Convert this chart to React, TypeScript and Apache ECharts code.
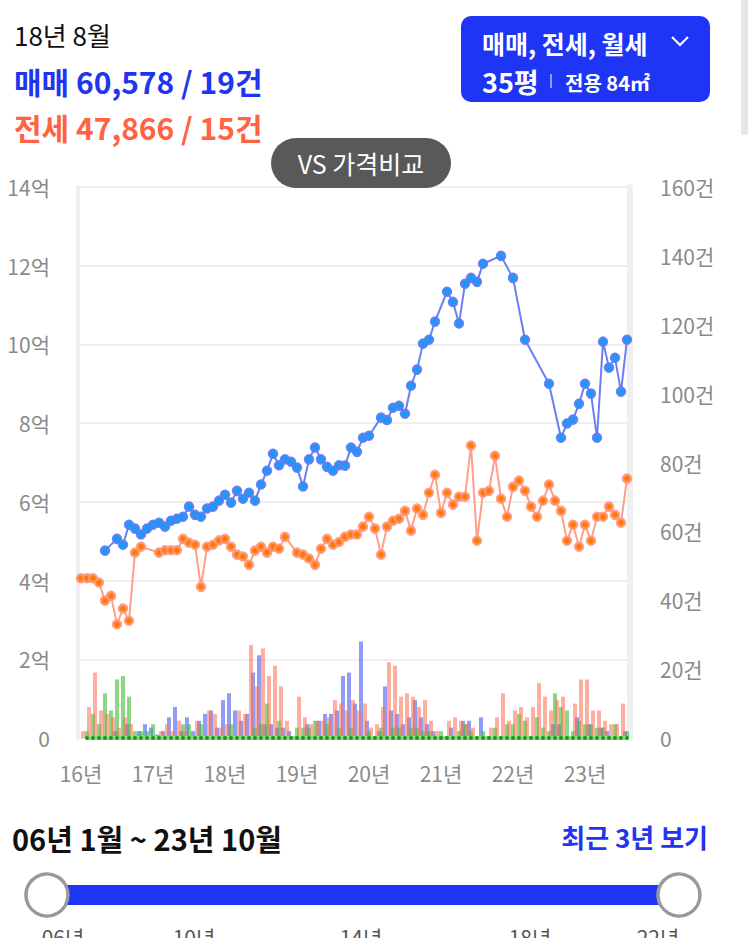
import React, { useEffect, useRef } from "react";
import * as echarts from "echarts";

const FONT = "'Noto Sans CJK KR', 'Noto Sans', sans-serif";

// months 16.01 .. 23.08
const months: string[] = [
  "16.01","16.02","16.03","16.04","16.05","16.06","16.07","16.08","16.09","16.10","16.11","16.12",
  "17.01","17.02","17.03","17.04","17.05","17.06","17.07","17.08","17.09","17.10","17.11","17.12",
  "18.01","18.02","18.03","18.04","18.05","18.06","18.07","18.08","18.09","18.10","18.11","18.12",
  "19.01","19.02","19.03","19.04","19.05","19.06","19.07","19.08","19.09","19.10","19.11","19.12",
  "20.01","20.02","20.03","20.04","20.05","20.06","20.07","20.08","20.09","20.10","20.11","20.12",
  "21.01","21.02","21.03","21.04","21.05","21.06","21.07","21.08","21.09","21.10","21.11","21.12",
  "22.01","22.02","22.03","22.04","22.05","22.06","22.07","22.08","22.09","22.10","22.11","22.12",
  "23.01","23.02","23.03","23.04","23.05","23.06","23.07","23.08",
];

// 매매 price (억)
const salePrice: (number | null)[] = [
  null, null, null, null, 4.76, null, 5.06, 4.91, 5.42, 5.32, 5.17, 5.32,
  5.42, 5.47, 5.37, 5.52, 5.57, 5.62, 5.88, 5.67, 5.62, 5.83, 5.88, 6.03,
  6.18, 5.98, 6.28, 6.08, 6.23, 6.03, 6.44, 6.79, 7.22, 6.93, 7.08, 7.02,
  6.87, 6.39, 7.08, 7.38, 7.08, 6.89, 6.79, 6.93, 6.92, 7.38, 7.27, 7.63,
  7.68, null, 8.14, 8.08, 8.39, 8.44, 8.24, 8.95, 9.36, 10.02, 10.12, 10.58,
  null, 11.34, 11.08, 10.53, 11.54, 11.69, 11.59, 12.05, null, null, 12.25, null,
  11.69, null, 10.12, null, null, null, 9.0, null, 7.63, 7.99, 8.09, 8.49,
  9.0, 8.75, 7.63, 10.07, 9.41, 9.66, 8.8, 10.12,
];

// 전세 price (억)
const jeonsePrice: (number | null)[] = [
  4.06, 4.06, 4.06, 3.95, 3.49, 3.61, 2.89, 3.29, 2.98, 4.71, 4.86, null,
  null, 4.71, 4.77, 4.77, 4.77, 5.06, 4.96, 4.91, 3.84, 4.86, 4.91, 5.02,
  5.06, 4.86, 4.66, 4.61, 4.4, 4.76, 4.86, 4.71, 4.86, 4.81, 5.11, null,
  4.71, 4.66, 4.56, 4.4, 4.81, 5.06, 4.91, 4.98, 5.11, 5.17, 5.17, 5.37,
  5.62, 5.32, 4.66, 5.37, 5.52, 5.57, 5.77, 5.27, 5.83, 5.67, 6.23, 6.69,
  5.72, 6.23, 5.93, 6.13, 6.13, 7.43, 5.01, 6.23, 6.28, 7.17, 6.08, 5.62,
  6.38, 6.54, 6.28, 5.88, 5.62, 6.03, 6.44, 6.03, 5.77, 5.01, 5.42, 4.86,
  5.42, 5.01, 5.62, 5.62, 5.88, 5.67, 5.47, 6.59,
];

// 월세 price line (shown at the bottom)
const monthlyPrice: (number | null)[] = [
  null, 0, 0, 0, 0, 0, 0, 0, 0, 0, 0, 0,
  0, 0, 0, 0, 0, 0, 0, 0, 0, 0, 0, 0,
  0, 0, 0, 0, 0, 0, 0, 0, 0, 0, 0, 0,
  0, 0, 0, 0, 0, 0, 0, 0, 0, 0, 0, 0,
  0, 0, 0, 0, 0, 0, 0, 0, 0, 0, 0, 0,
  0, 0, 0, 0, 0, 0, 0, 0, 0, 0, 0, 0,
  0, 0, 0, 0, 0, 0, 0, 0, 0, 0, 0, 0,
  0, 0, 0, 0, 0, 0, 0, 0,
];

// 매매 count (건)
const saleCount: number[] = [
  0, 0, 0, 0, 0, 0, 2, 0, 4, 0, 2, 4,
  3, 1, 2, 6, 9, 2, 6, 2, 5, 7, 8, 3,
  11, 13, 8, 5, 7, 19, 24, 4, 4, 3, 3, 2,
  0, 0, 4, 0, 5, 7, 7, 8, 18, 19, 10, 28,
  5, 0, 2, 15, 8, 7, 4, 6, 11, 6, 4, 2,
  0, 0, 3, 0, 5, 5, 0, 6, 0, 0, 0, 0,
  0, 0, 0, 0, 0, 0, 0, 4, 4, 0, 0, 6,
  0, 4, 0, 3, 2, 0, 0, 2,
];

// 전세 count (건)
const jeonseCount: number[] = [
  2, 9, 19, 8, 7, 6, 3, 6, 4, 0, 0, 0,
  0, 2, 4, 2, 5, 2, 0, 5, 0, 8, 7, 3,
  4, 0, 8, 7, 27, 15, 26, 18, 21, 15, 5, 0,
  12, 6, 4, 5, 5, 6, 11, 10, 8, 11, 8, 10,
  3, 4, 9, 22, 21, 12, 13, 12, 9, 11, 5, 2,
  0, 5, 6, 5, 4, 3, 0, 0, 3, 6, 13, 5,
  8, 9, 6, 9, 16, 12, 8, 11, 12, 0, 10, 17,
  17, 8, 8, 5, 4, 4, 10, 0,
];

// 월세 count (건)
const monthlyCount: number[] = [
  0, 2, 7, 4, 13, 8, 17, 18, 12, 2, 2, 2,
  4, 0, 0, 0, 0, 4, 4, 0, 4, 0, 0, 0,
  0, 4, 0, 0, 0, 3, 4, 10, 0, 5, 0, 0,
  3, 3, 3, 5, 0, 4, 0, 3, 0, 3, 0, 0,
  2, 0, 3, 0, 3, 3, 0, 3, 3, 2, 2, 0,
  2, 0, 0, 2, 4, 2, 0, 2, 0, 3, 0, 4,
  4, 7, 5, 0, 6, 3, 2, 13, 9, 8, 2, 5,
  4, 4, 3, 3, 0, 4, 0, 2,
];

const priceTicks = { min: 0, max: 14, interval: 2 };
const countTicks = { min: 0, max: 160, interval: 20 };
const sliderLabels = ["06년", "10년", "14년", "18년", "22년"];

export default function App() {
  const ref = useRef<HTMLDivElement>(null);
  useEffect(() => {
    if (!ref.current) return;
    const chart = echarts.init(ref.current, null, { renderer: "svg" });
    const axisLabelStyle = { color: "#8a8a8a", fontSize: 21, fontFamily: FONT };
    const sliderX = [63, 194, 361, 530, 658];
    chart.setOption({
      animation: false,
      backgroundColor: "#ffffff",
      grid: { left: 78, right: 118, top: 187, bottom: 200, containLabel: false },
      xAxis: {
        type: "category",
        data: months,
        boundaryGap: true,
        axisLine: { show: false },
        axisTick: { show: false },
        splitLine: { show: false },
        axisLabel: {
          ...axisLabelStyle,
          margin: 24,
          interval: (idx: number) => idx % 12 === 0,
          formatter: (v: string) => v.slice(0, 2) + "년",
        },
      },
      yAxis: [
        {
          type: "value",
          ...priceTicks,
          position: "left",
          axisLine: { show: true, lineStyle: { color: "#efefef", width: 4 } },
          axisTick: { show: false },
          splitLine: { show: true, lineStyle: { color: "#efefef", width: 2 } },
          axisLabel: {
            ...axisLabelStyle,
            margin: 28,
            formatter: (v: number) => (v === 0 ? "0" : v + "억"),
          },
        },
        {
          type: "value",
          ...countTicks,
          position: "right",
          axisLine: { show: true, lineStyle: { color: "#efefef", width: 6 } },
          axisTick: { show: false },
          splitLine: { show: false },
          axisLabel: {
            ...axisLabelStyle,
            margin: 30,
            formatter: (v: number) => (v === 0 ? "0" : v + "건"),
          },
        },
      ],
      series: [
        {
          name: "매매 건수",
          type: "bar",
          yAxisIndex: 1,
          data: saleCount,
          barWidth: 4,
          barGap: "-50%",
          itemStyle: { color: "rgba(70,90,240,0.6)" },
        },
        {
          name: "월세 건수",
          type: "bar",
          yAxisIndex: 1,
          data: monthlyCount,
          barWidth: 4,
          barGap: "-50%",
          itemStyle: { color: "rgba(60,190,50,0.6)" },
        },
        {
          name: "전세 건수",
          type: "bar",
          yAxisIndex: 1,
          data: jeonseCount,
          barWidth: 4,
          barGap: "-50%",
          itemStyle: { color: "rgba(255,110,80,0.55)" },
        },
        {
          name: "월세",
          type: "line",
          yAxisIndex: 0,
          data: monthlyPrice,
          connectNulls: true,
          showAllSymbol: true,
          symbol: "circle",
          symbolSize: 4,
          lineStyle: { color: "#8fdc85", width: 4 },
          itemStyle: { color: "#1a9a1a", borderWidth: 0 },
          z: 3,
        },
        {
          name: "전세",
          type: "line",
          yAxisIndex: 0,
          data: jeonsePrice,
          connectNulls: true,
          showAllSymbol: true,
          symbol: "circle",
          symbolSize: 8,
          lineStyle: { color: "#ff9f8a", width: 2 },
          itemStyle: { color: "#ff7a00", borderColor: "rgba(255,150,125,0.9)", borderWidth: 2.5 },
          z: 4,
        },
        {
          name: "매매",
          type: "line",
          yAxisIndex: 0,
          data: salePrice,
          connectNulls: true,
          showAllSymbol: true,
          symbol: "circle",
          symbolSize: 8,
          lineStyle: { color: "#6b7ff0", width: 2 },
          itemStyle: { color: "#0ea0f5", borderColor: "rgba(90,125,245,0.95)", borderWidth: 2.5 },
          z: 5,
        },
      ],
      graphic: [
        { type: "line", shape: { x1: 76, y1: 187, x2: 633, y2: 187 }, style: { stroke: "#efefef", lineWidth: 2 }, z: 1 },
        { type: "rect", shape: { x: 741, y: 0, width: 7, height: 135, r: [0, 0, 3, 3] }, style: { fill: "#e6e6e6" } },
        { type: "text", x: 14, y: 34, style: { text: "18년 8월", font: `400 26px ${FONT}`, fill: "#111111", verticalAlign: "middle" } },
        { type: "text", x: 14, y: 81, style: { text: "매매 60,578 / 19건", font: `700 30px ${FONT}`, fill: "#1f35f0", verticalAlign: "middle" } },
        { type: "text", x: 14, y: 127, style: { text: "전세 47,866 / 15건", font: `700 30px ${FONT}`, fill: "#ff6344", verticalAlign: "middle" } },
        { type: "rect", shape: { x: 461, y: 16, width: 249, height: 86, r: 10 }, style: { fill: "#1f35f5" } },
        { type: "text", x: 482, y: 43, style: { text: "매매, 전세, 월세", font: `700 25px ${FONT}`, fill: "#ffffff", verticalAlign: "middle" } },
        { type: "polyline", shape: { points: [[672, 37], [680, 45], [688, 37]] }, style: { stroke: "#ffffff", lineWidth: 2, fill: "none" } },
        { type: "text", x: 482, y: 81, style: { text: "35평", font: `700 27px ${FONT}`, fill: "#ffffff", verticalAlign: "middle" } },
        { type: "line", shape: { x1: 551, y1: 74, x2: 551, y2: 88 }, style: { stroke: "rgba(255,255,255,0.7)", lineWidth: 1.5 } },
        { type: "text", x: 565, y: 82, style: { text: "전용 84㎡", font: `700 20px ${FONT}`, fill: "#ffffff", verticalAlign: "middle" } },
        { type: "rect", shape: { x: 271, y: 138, width: 180, height: 50, r: 25 }, style: { fill: "#595959" }, z: 10 },
        { type: "text", x: 361, y: 163, z: 11, style: { text: "VS 가격비교", font: `400 25px ${FONT}`, fill: "#ffffff", align: "center", verticalAlign: "middle" } },
        { type: "text", x: 12, y: 838, style: { text: "06년 1월 ~ 23년 10월", font: `700 29px ${FONT}`, fill: "#111111", verticalAlign: "middle" } },
        { type: "text", x: 708, y: 836, style: { text: "최근 3년 보기", font: `700 26px ${FONT}`, fill: "#1f35f0", align: "right", verticalAlign: "middle" } },
        { type: "rect", shape: { x: 47, y: 885, width: 632, height: 20 }, style: { fill: "#1f35f5" } },
        { type: "circle", shape: { cx: 47, cy: 895, r: 21 }, style: { fill: "#ffffff", stroke: "#999999", lineWidth: 3.5 } },
        { type: "circle", shape: { cx: 679, cy: 895, r: 21 }, style: { fill: "#ffffff", stroke: "#999999", lineWidth: 3.5 } },
        ...sliderLabels.map((t, k) => ({
          type: "text",
          x: sliderX[k],
          y: 926,
          style: { text: t, font: `400 21px ${FONT}`, fill: "#555555", align: "center", verticalAlign: "top" },
        })),
      ],
    });
    return () => chart.dispose();
  }, []);
  return (
    <div
      ref={ref}
      style={{ position: "absolute", left: 0, top: 0, width: 748, height: 938, background: "#ffffff" }}
    />
  );
}
